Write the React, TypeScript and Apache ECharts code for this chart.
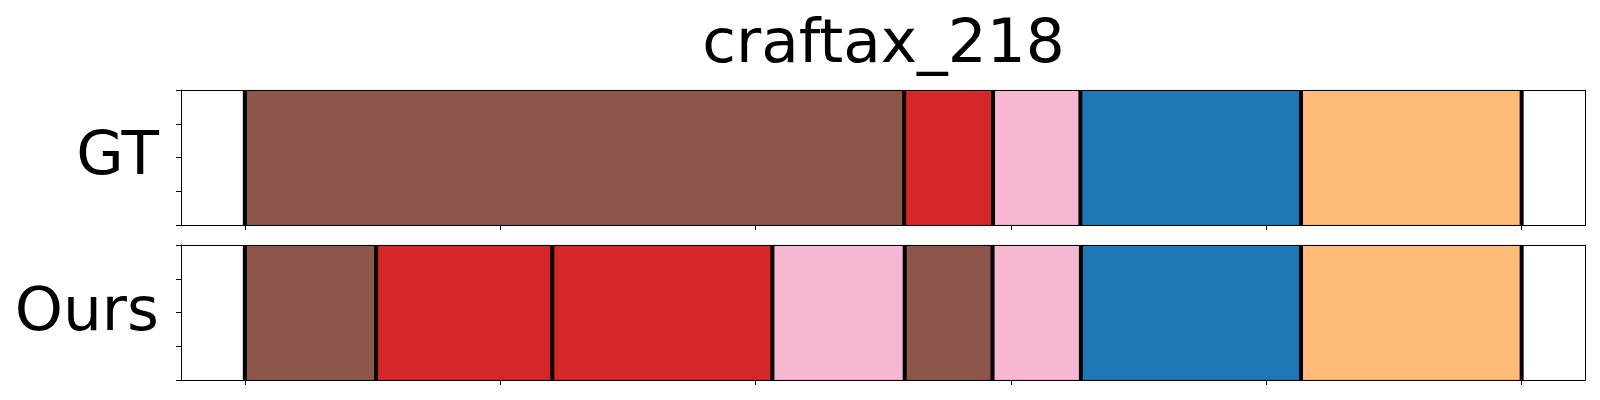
import React, { useEffect, useRef } from "react";
import * as echarts from "echarts";

const TITLE = "craftax_218";
const rowLabels = ["GT", "Ours"];

// segment boundaries (time units) and class of each segment
const gtBounds = [0, 129.1, 146.5, 163.6, 206.8, 250];
const gtClasses = ["brown", "red", "pink", "blue", "orange"];
const oursBounds = [0, 25.7, 60.2, 103.3, 129.2, 146.4, 163.7, 206.8, 250];
const oursClasses = ["brown", "red", "red", "pink", "brown", "pink", "blue", "orange"];

const xTicks = [0, 50, 100, 150, 200, 250];
const yTicks = [0, 0.25, 0.5, 0.75, 1];
const xMin = -12.5;
const xMax = 262.5;

const classColors: Record<string, string> = {
  brown: "#8c564b",
  red: "#d62728",
  pink: "#f7b6d2",
  blue: "#1f77b4",
  orange: "#ffbb78",
};

function buildData(bounds: number[], classes: string[]) {
  return classes.map((c, i) => ({
    value: [bounds[i], bounds[i + 1]],
    itemStyle: { color: classColors[c] },
  }));
}

export default function App() {
  const ref = useRef<HTMLDivElement>(null);
  useEffect(() => {
    if (!ref.current) return;
    const chart = echarts.init(ref.current, null, { renderer: "svg" });
    const font = "DejaVu Sans";
    const fontSize = 61.3;
    const gridLeft = 181;
    const gridWidth = 1404.5;
    const grids = [
      { left: gridLeft, top: 90, width: gridWidth, height: 135 },
      { left: gridLeft, top: 245, width: gridWidth, height: 135 },
    ];
    const lineStyle = { color: "#000", width: 1 };
    const xAxes: any[] = [];
    const yAxes: any[] = [];
    grids.forEach((_, gi) => {
      xAxes.push({
        type: "value",
        gridIndex: gi,
        min: xMin,
        max: xMax,
        position: "bottom",
        z: 10,
        axisLine: { show: true, onZero: false, lineStyle },
        axisTick: { show: true, customValues: xTicks, length: 5, inside: false, lineStyle },
        axisLabel: { show: false },
        splitLine: { show: false },
      });
      xAxes.push({
        type: "value",
        gridIndex: gi,
        min: xMin,
        max: xMax,
        position: "top",
        z: 10,
        axisLine: { show: true, onZero: false, lineStyle },
        axisTick: { show: false },
        axisLabel: { show: false },
        splitLine: { show: false },
      });
      yAxes.push({
        type: "value",
        gridIndex: gi,
        min: 0,
        max: 1,
        position: "left",
        z: 10,
        axisLine: { show: true, onZero: false, lineStyle },
        axisTick: { show: true, customValues: yTicks, length: 5, inside: false, lineStyle },
        axisLabel: { show: false },
        splitLine: { show: false },
      });
      yAxes.push({
        type: "value",
        gridIndex: gi,
        min: 0,
        max: 1,
        position: "right",
        z: 10,
        axisLine: { show: true, onZero: false, lineStyle },
        axisTick: { show: false },
        axisLabel: { show: false },
        splitLine: { show: false },
      });
    });

    const makeSeries = (gi: number, bounds: number[], classes: string[]) => {
      const data = buildData(bounds, classes);
      const n = data.length;
      return {
        type: "custom",
        xAxisIndex: gi * 2,
        yAxisIndex: gi * 2,
        z: 2,
        encode: { x: [0, 1] },
        data,
        renderItem: (params: any, api: any) => {
          const s = api.value(0);
          const e = api.value(1);
          const p0 = api.coord([s, 1]);
          const p1 = api.coord([e, 0]);
          const color = api.visual("color");
          const children: any[] = [
            {
              type: "rect",
              shape: { x: p0[0], y: p0[1], width: p1[0] - p0[0], height: p1[1] - p0[1] },
              style: { fill: color, stroke: "rgba(0,0,0,0.12)", lineWidth: 1 },
            },
            {
              type: "line",
              shape: { x1: p0[0], y1: p0[1], x2: p0[0], y2: p1[1] },
              style: { stroke: "#000", lineWidth: 4 },
            },
          ];
          if (params.dataIndex === n - 1) {
            children.push({
              type: "line",
              shape: { x1: p1[0], y1: p0[1], x2: p1[0], y2: p1[1] },
              style: { stroke: "#000", lineWidth: 4 },
            });
          }
          return { type: "group", children };
        },
      };
    };

    chart.setOption({
      animation: false,
      backgroundColor: "#fff",
      grid: grids,
      xAxis: xAxes,
      yAxis: yAxes,
      series: [makeSeries(0, gtBounds, gtClasses), makeSeries(1, oursBounds, oursClasses)],
      graphic: [
        {
          type: "text",
          x: 883.5,
          y: 40,
          style: {
            text: TITLE,
            font: `${fontSize}px "${font}"`,
            fill: "#000",
            textAlign: "center",
            textVerticalAlign: "middle",
          },
        },
        {
          type: "text",
          x: 159,
          y: 152,
          style: {
            text: rowLabels[0],
            font: `${fontSize}px "${font}"`,
            fill: "#000",
            textAlign: "right",
            textVerticalAlign: "middle",
          },
        },
        {
          type: "text",
          x: 159,
          y: 308,
          style: {
            text: rowLabels[1],
            font: `${fontSize}px "${font}"`,
            fill: "#000",
            textAlign: "right",
            textVerticalAlign: "middle",
          },
        },
      ],
    });
    return () => chart.dispose();
  }, []);
  return (
    <div
      ref={ref}
      style={{ position: "fixed", left: 0, top: 0, width: 1600, height: 400, background: "#fff" }}
    />
  );
}
